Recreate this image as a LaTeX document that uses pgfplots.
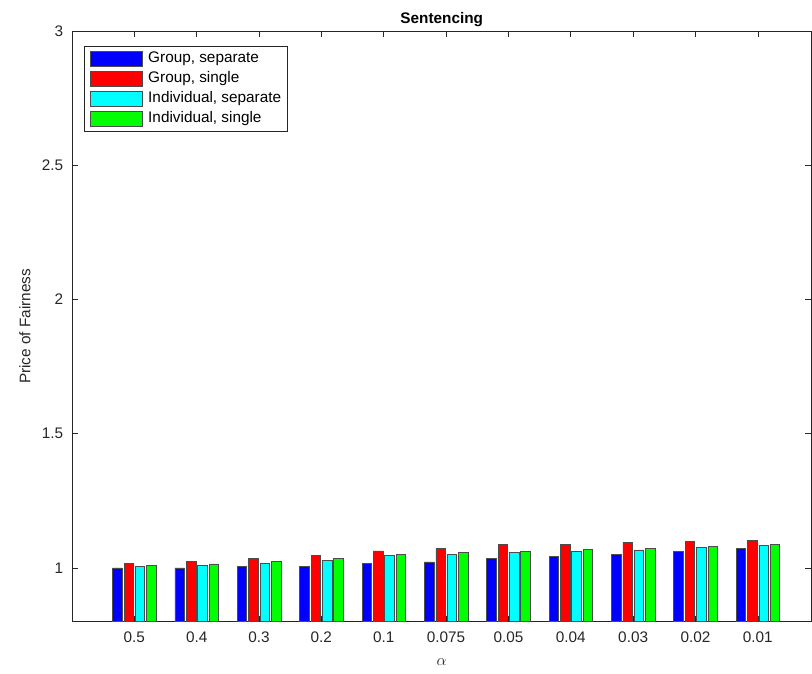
\documentclass[border=0pt]{standalone}
\usepackage{fontspec}
\setmainfont{Liberation Sans}
\usepackage{pgfplots}
\pgfplotsset{compat=1.18}
\definecolor{axgray}{gray}{0.15}
\definecolor{mblue}{rgb}{0,0,1}
\definecolor{mred}{rgb}{1,0,0}
\definecolor{mcyan}{rgb}{0,1,1}
\definecolor{mgreen}{rgb}{0,1,0}
\pgfplotsset{
  mybar/.style={ybar, bar width=0.152, bar shift=#1, draw=black!70, line width=0.5pt,
    legend image code/.code={\draw[##1] (0pt,-5.6pt) rectangle (39pt,5.6pt); \path (42.5pt,0pt);}},
}
\begin{document}
\begin{tikzpicture}
\begin{axis}[
  name=ax,
  scale only axis, width=555pt, height=443.25pt,
  xmin=0, xmax=11.86, ymin=0.8, ymax=3,
  xtick={1,2,3,4,5,6,7,8,9,10,11},
  xticklabels={0.5,0.4,0.3,0.2,0.1,0.075,0.05,0.04,0.03,0.02,0.01},
  ytick={1,1.5,2,2.5,3},
  yticklabels={1,1.5,2,2.5,3},
  tick align=inside, major tick length=4.5pt,
  axis line style={axgray, line width=0.5pt},
  tick style={axgray, line width=0.5pt},
  ticklabel style={font=\fontsize{11.5}{13}\selectfont, text=axgray},
  xticklabel style={yshift=-4.5pt},
  yticklabel style={xshift=-3pt},
  /pgf/number format/assume math mode=true,
  title={Sentencing},
  title style={font=\fontsize{11.5}{13}\selectfont\bfseries, yshift=-6pt},
  ylabel={Price of Fairness},
  ylabel style={at={(axis description cs:-0.0635,0.5)}, anchor=center, font=\fontsize{11.5}{13}\selectfont, text=axgray},
  xlabel={$\alpha$},
  xlabel style={at={(axis description cs:0.5,-0.068)}, anchor=center, font=\fontsize{12}{13}\selectfont, text=axgray},
  legend style={at={(0,1)}, anchor=north west, xshift=9pt, yshift=-11pt,
    draw=axgray, line width=0.5pt, font=\fontsize{11.5}{13}\selectfont,
    inner xsep=4pt, inner ysep=3pt,
    nodes={inner sep=1pt, text height=8.3pt, text depth=2.5pt},
    row sep=2.2pt},
  legend cell align=left,
]
\addplot[mybar=-0.272, fill=mblue] coordinates {
(1,1.000) (2,1.000) (3,1.005) (4,1.005) (5,1.017) (6,1.022) (7,1.035) (8,1.042) (9,1.051) (10,1.060) (11,1.072)};
\addlegendentry{Group, separate}
\addplot[mybar=-0.088, fill=mred] coordinates {
(1,1.017) (2,1.025) (3,1.034) (4,1.045) (5,1.063) (6,1.072) (7,1.086) (8,1.088) (9,1.096) (10,1.100) (11,1.102)};
\addlegendentry{Group, single}
\addplot[mybar=0.092, fill=mcyan] coordinates {
(1,1.005) (2,1.009) (3,1.017) (4,1.029) (5,1.045) (6,1.051) (7,1.058) (8,1.062) (9,1.067) (10,1.076) (11,1.085)};
\addlegendentry{Individual, separate}
\addplot[mybar=0.274, fill=mgreen] coordinates {
(1,1.010) (2,1.015) (3,1.025) (4,1.034) (5,1.051) (6,1.057) (7,1.062) (8,1.070) (9,1.072) (10,1.080) (11,1.087)};
\addlegendentry{Individual, single}
\end{axis}
\pgfresetboundingbox
\useasboundingbox ([xshift=-54pt,yshift=-39pt]ax.south west) rectangle ([xshift=0.4pt,yshift=23.25pt]ax.north east);
\end{tikzpicture}
\end{document}
